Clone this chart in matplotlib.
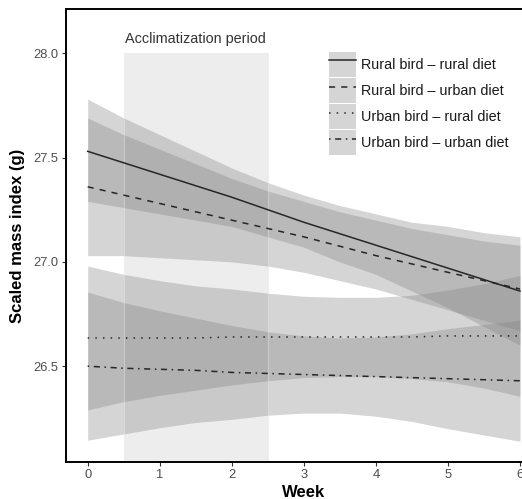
import matplotlib.pyplot as plt
from matplotlib.lines import Line2D
from matplotlib.patches import Patch, Rectangle

plt.rcParams["font.family"] = ["Liberation Sans", "DejaVu Sans"]

# Model predictions per half week, with 95% CI bounds
week = [0, 0.5, 1, 1.5, 2, 2.5, 3, 3.5, 4, 4.5, 5, 5.5, 6]

rr_fit = [27.53, 27.475, 27.42, 27.365, 27.31, 27.25, 27.19, 27.135, 27.08, 27.025, 26.97, 26.915, 26.86]
rr_hi = [27.78, 27.69, 27.61, 27.53, 27.45, 27.38, 27.32, 27.27, 27.23, 27.19, 27.17, 27.14, 27.12]
rr_lo = [27.29, 27.26, 27.23, 27.20, 27.17, 27.12, 27.07, 27.00, 26.94, 26.86, 26.78, 26.69, 26.60]

ru_fit = [27.36, 27.32, 27.28, 27.24, 27.20, 27.16, 27.12, 27.075, 27.03, 26.99, 26.95, 26.91, 26.87]
ru_hi = [27.69, 27.61, 27.54, 27.47, 27.40, 27.34, 27.29, 27.24, 27.20, 27.16, 27.13, 27.10, 27.08]
ru_lo = [27.03, 27.03, 27.02, 27.01, 27.00, 26.98, 26.95, 26.91, 26.87, 26.82, 26.77, 26.72, 26.67]

ur_fit = [26.635, 26.635, 26.635, 26.635, 26.64, 26.64, 26.64, 26.64, 26.64, 26.64, 26.645, 26.645, 26.645]
ur_hi = [26.98, 26.94, 26.91, 26.885, 26.87, 26.85, 26.835, 26.83, 26.83, 26.84, 26.865, 26.895, 26.935]
ur_lo = [26.29, 26.33, 26.36, 26.385, 26.41, 26.43, 26.445, 26.45, 26.45, 26.44, 26.425, 26.395, 26.355]

uu_fit = [26.50, 26.49, 26.485, 26.48, 26.47, 26.465, 26.46, 26.455, 26.45, 26.445, 26.44, 26.435, 26.43]
uu_hi = [26.855, 26.805, 26.765, 26.73, 26.695, 26.665, 26.645, 26.635, 26.64, 26.655, 26.68, 26.70, 26.72]
uu_lo = [26.145, 26.175, 26.205, 26.23, 26.245, 26.265, 26.275, 26.275, 26.26, 26.235, 26.20, 26.17, 26.14]

labels = [
    "Rural bird \u2013 rural diet",
    "Rural bird \u2013 urban diet",
    "Urban bird \u2013 rural diet",
    "Urban bird \u2013 urban diet",
]
styles = ["-", (0, (4, 4)), (0, (1, 4)), (0, (1, 3, 4, 3))]

band_col = "#7f7f7f"
band_alpha = 0.32

fig = plt.figure(figsize=(5.22, 4.99), dpi=100)
ax = fig.add_axes([0.1259, 0.0735, 0.9123, 0.9079])

ymin, ymax = 26.039, 28.211
ax.set_xlim(-0.305, 6.305)
ax.set_ylim(ymin, ymax)

series = [
    (rr_fit, rr_lo, rr_hi),
    (ru_fit, ru_lo, ru_hi),
    (ur_fit, ur_lo, ur_hi),
    (uu_fit, uu_lo, uu_hi),
]
for (fit, lo, hi), ls in zip(series, styles):
    ax.fill_between(week, lo, hi, color=band_col, alpha=band_alpha, lw=0, zorder=2)
    ax.plot(week, fit, color="#262626", lw=1.1, linestyle=ls, zorder=3)

# acclimatization window
ax.add_patch(Rectangle((0.5, ymin), 2.0, 28.0 - ymin,
                       facecolor=(0.5, 0.5, 0.5, 0.14),
                       edgecolor=(0.9, 0.9, 0.9, 0.45), lw=0.8, zorder=2.5))
ax.text(1.5, 28.068, "Acclimatization period", ha="center", va="center",
        fontsize=10.4, color="#333333")

ax.set_xticks([0, 1, 2, 3, 4, 5, 6])
ax.set_yticks([26.5, 27.0, 27.5, 28.0])
ax.set_yticklabels(["26.5", "27.0", "27.5", "28.0"])
ax.tick_params(axis="both", colors="#333333", labelcolor="#4d4d4d",
               labelsize=9.3, length=3, width=0.8, pad=2)

for s in ax.spines.values():
    s.set_linewidth(1.4)
    s.set_color("black")

ax.set_xlabel("Week", fontsize=12, fontweight="bold")
ax.set_ylabel("Scaled mass index (g)", fontsize=12, fontweight="bold", labelpad=6)
ax.xaxis.set_label_coords(3.305 / 6.61, -0.05)

handles = [
    (Patch(facecolor=band_col, alpha=band_alpha, edgecolor="none"),
     Line2D([], [], color="#262626", lw=1.1, linestyle=ls))
    for ls in styles
]
ax.legend(handles, labels, loc="upper left",
          bbox_to_anchor=(329 / 522, 1 - 52 / 499), bbox_transform=fig.transFigure,
          frameon=False, fontsize=10.4, borderpad=0, borderaxespad=0,
          handlelength=1.87, handleheight=2.28, labelspacing=0.08,
          handletextpad=0.35, labelcolor="#1a1a1a")

fig.savefig("out.png", dpi=100)
